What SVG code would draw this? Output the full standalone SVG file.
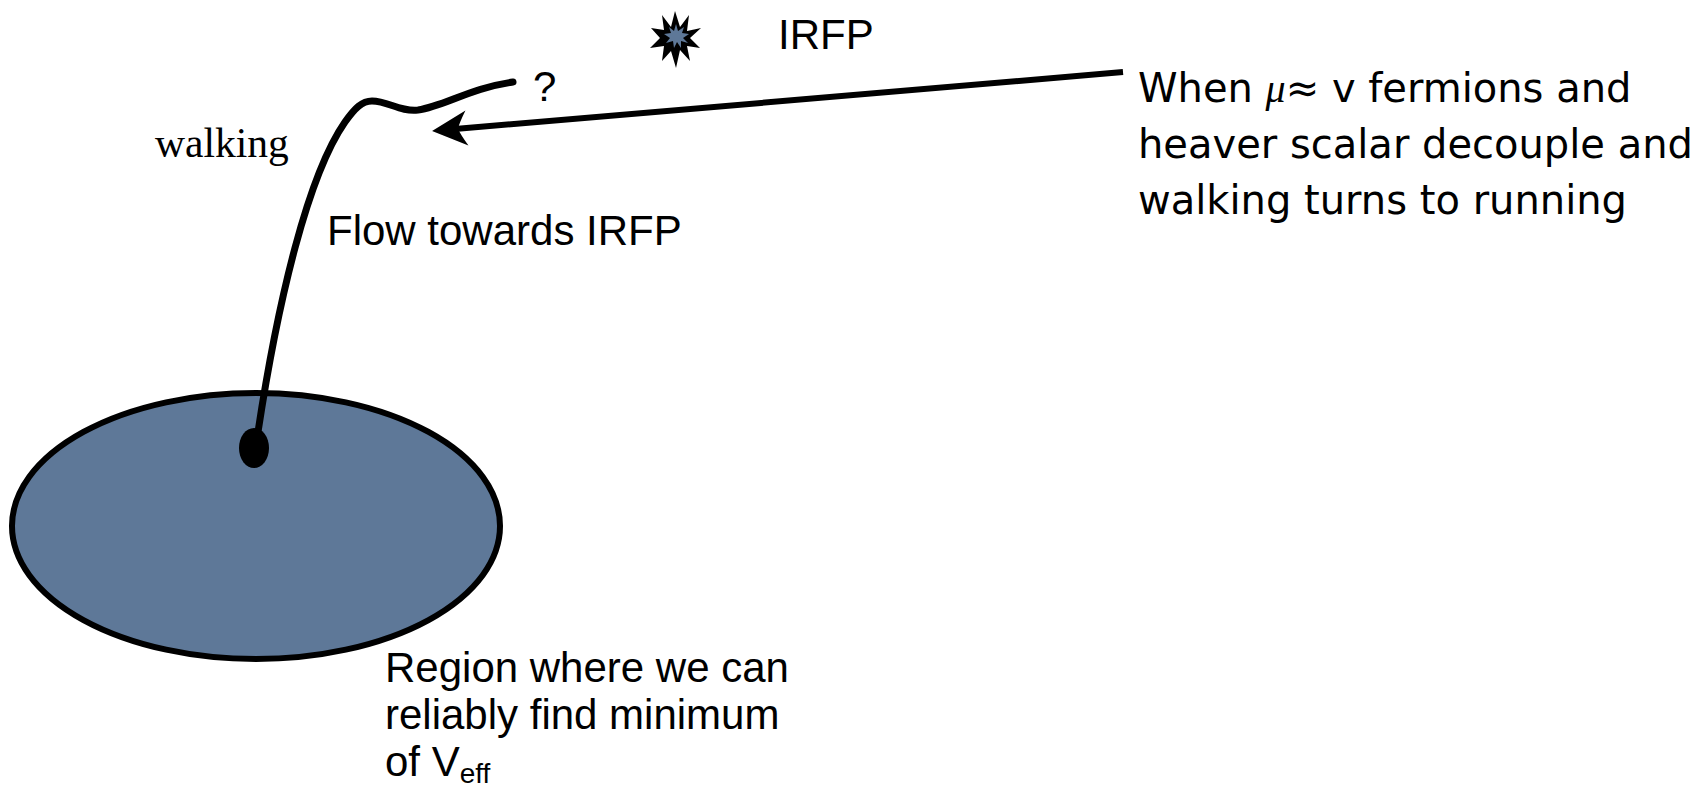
<svg xmlns="http://www.w3.org/2000/svg" width="1701" height="789" viewBox="0 0 1701 789">
<style>
.sans{font-family:"Liberation Sans",Arial,sans-serif;fill:#000}
.serif{font-family:"Liberation Serif","Times New Roman",serif;fill:#000}
.luc{font-family:"DejaVu Sans",sans-serif;fill:#000}
.thick{fill:none;stroke:#000;stroke-width:7;stroke-linecap:round}
</style>
<defs>
<marker id="ah" markerUnits="userSpaceOnUse" markerWidth="80" markerHeight="80" refX="0" refY="0" orient="auto" overflow="visible">
<path d="M20,0 L-15,-17.5 Q-8,-6 -6,0 Q-8,6 -15,17.5 Z" fill="#000"/>
</marker>
</defs>
<rect width="1701" height="789" fill="#fff"/>
<g id="region">
<ellipse cx="256" cy="526" rx="244" ry="133" fill="#5e7898" stroke="#000" stroke-width="6"/>
</g>
<g id="irfp-star">
<polygon fill="#000" points="675,11 680,27 689,15 687,31 701,28 690,38 700,48 687,46 690,61 680,50 676,68 671,51 662,61 664,46 650,48 660,38 651,28 664,30 662,15 671,27"/>
<polygon fill="#5e7898" points="676,24 678,31 684,27 682,33 689,34 683,38 688,43 681,41 681,48 677,42 674,48 673,41 666,43 670,38 664,34 671,33 669,27 674,31"/>
</g>
<g id="connectors">
<path class="thick" d="M258,432 C278,300 308,175 345,122 C355,108 362,101 372,101 C388,101 400,112 418,110 C445,106 470,88 513,82"/>
<path fill="none" stroke="#000" stroke-width="6" d="M1123,72 L452,129.3" marker-end="url(#ah)"/>
</g>
<g id="start-dot">
<ellipse cx="254" cy="448" rx="15" ry="20" fill="#000"/>
</g>
<g id="labels">
<text class="sans" x="778" y="49" font-size="42">IRFP</text>
<text class="sans" x="533" y="101" font-size="42">?</text>
<text class="serif" x="155" y="157" font-size="41.5">walking</text>
<text class="sans" x="327" y="245" font-size="42">Flow towards IRFP</text>
<text class="sans" font-size="42"><tspan x="385" y="682">Region where we can</tspan><tspan x="385" y="729">reliably find minimum</tspan><tspan x="385" y="776">of V<tspan font-size="28" dy="7">eff</tspan></tspan></text>
<text class="luc" font-size="40"><tspan x="1138" y="102">When <tspan font-family="Liberation Serif, serif" font-style="italic">μ</tspan>≈ v fermions and</tspan><tspan x="1138" y="158">heaver scalar decouple and</tspan><tspan x="1138" y="214">walking turns to running</tspan></text>
</g>
</svg>
